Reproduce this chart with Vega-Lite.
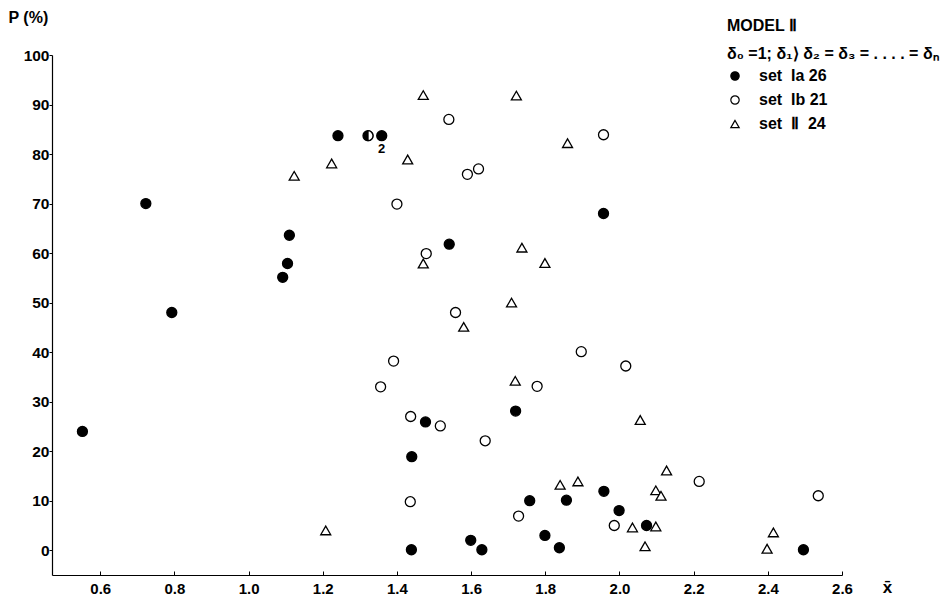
{
  "$schema": "https://vega.github.io/schema/vega-lite/v6.json",
  "width": 790,
  "height": 520,
  "autosize": {"type": "none"},
  "padding": {"left": 52, "top": 55, "right": 103, "bottom": 25},
  "background": "white",
  "config": {
    "view": {"stroke": null},
    "font": "Liberation Sans",
    "axis": {
      "domainColor": "black",
      "tickColor": "black",
      "labelColor": "black",
      "titleColor": "black",
      "grid": false,
      "labelFont": "Liberation Sans",
      "titleFont": "Liberation Sans"
    },
    "legend": {
      "orient": "none",
      "legendX": 675,
      "legendY": -37,
      "padding": 0,
      "titleFontSize": 16,
      "titleFontWeight": "bold",
      "titleLineHeight": 28,
      "titlePadding": 6,
      "titleColor": "black",
      "titleLimit": 400,
      "labelFontSize": 16,
      "labelFontWeight": "bold",
      "labelColor": "black",
      "labelOffset": 16,
      "labelLimit": 300,
      "rowPadding": 8,
      "symbolSize": 70,
      "symbolStrokeWidth": 1.2
    }
  },
  "data": {
    "values": [
      {"x": 0.552, "p": 24.0, "set": "Ia"},
      {"x": 0.723, "p": 70.0, "set": "Ia"},
      {"x": 0.793, "p": 48.0, "set": "Ia"},
      {"x": 1.092, "p": 55.1, "set": "Ia"},
      {"x": 1.105, "p": 57.9, "set": "Ia"},
      {"x": 1.110, "p": 63.6, "set": "Ia"},
      {"x": 1.241, "p": 83.7, "set": "Ia"},
      {"x": 1.322, "p": 83.7, "set": "Ia", "half": 1},
      {"x": 1.359, "p": 83.7, "set": "Ia", "n": 2},
      {"x": 1.541, "p": 61.8, "set": "Ia"},
      {"x": 1.957, "p": 68.0, "set": "Ia"},
      {"x": 1.720, "p": 28.1, "set": "Ia"},
      {"x": 1.477, "p": 25.9, "set": "Ia"},
      {"x": 1.440, "p": 18.9, "set": "Ia"},
      {"x": 1.958, "p": 11.9, "set": "Ia"},
      {"x": 1.758, "p": 10.0, "set": "Ia"},
      {"x": 1.857, "p": 10.1, "set": "Ia"},
      {"x": 1.999, "p": 8.0, "set": "Ia"},
      {"x": 2.073, "p": 5.0, "set": "Ia"},
      {"x": 1.599, "p": 2.0, "set": "Ia"},
      {"x": 1.799, "p": 3.0, "set": "Ia"},
      {"x": 1.439, "p": 0.1, "set": "Ia"},
      {"x": 1.629, "p": 0.1, "set": "Ia"},
      {"x": 1.838, "p": 0.5, "set": "Ia"},
      {"x": 2.496, "p": 0.1, "set": "Ia"},
      {"x": 1.540, "p": 87.0, "set": "Ib"},
      {"x": 1.957, "p": 83.9, "set": "Ib"},
      {"x": 1.590, "p": 75.9, "set": "Ib"},
      {"x": 1.620, "p": 77.0, "set": "Ib"},
      {"x": 1.400, "p": 69.9, "set": "Ib"},
      {"x": 1.479, "p": 59.9, "set": "Ib"},
      {"x": 1.558, "p": 48.0, "set": "Ib"},
      {"x": 1.897, "p": 40.1, "set": "Ib"},
      {"x": 1.391, "p": 38.2, "set": "Ib"},
      {"x": 2.017, "p": 37.2, "set": "Ib"},
      {"x": 1.356, "p": 33.0, "set": "Ib"},
      {"x": 1.778, "p": 33.1, "set": "Ib"},
      {"x": 1.437, "p": 27.0, "set": "Ib"},
      {"x": 1.517, "p": 25.1, "set": "Ib"},
      {"x": 1.638, "p": 22.1, "set": "Ib"},
      {"x": 1.436, "p": 9.8, "set": "Ib"},
      {"x": 1.728, "p": 6.9, "set": "Ib"},
      {"x": 1.986, "p": 5.0, "set": "Ib"},
      {"x": 2.215, "p": 13.9, "set": "Ib"},
      {"x": 2.536, "p": 11.0, "set": "Ib"},
      {"x": 1.123, "p": 75.6, "set": "II"},
      {"x": 1.471, "p": 91.9, "set": "II"},
      {"x": 1.722, "p": 91.8, "set": "II"},
      {"x": 1.860, "p": 82.2, "set": "II"},
      {"x": 1.224, "p": 78.1, "set": "II"},
      {"x": 1.429, "p": 78.9, "set": "II"},
      {"x": 1.471, "p": 57.9, "set": "II"},
      {"x": 1.737, "p": 61.1, "set": "II"},
      {"x": 1.799, "p": 58.0, "set": "II"},
      {"x": 1.709, "p": 50.0, "set": "II"},
      {"x": 1.580, "p": 45.1, "set": "II"},
      {"x": 1.719, "p": 34.2, "set": "II"},
      {"x": 2.056, "p": 26.3, "set": "II"},
      {"x": 1.840, "p": 13.2, "set": "II"},
      {"x": 1.888, "p": 13.9, "set": "II"},
      {"x": 2.035, "p": 4.6, "set": "II"},
      {"x": 1.208, "p": 4.0, "set": "II"},
      {"x": 2.069, "p": 0.8, "set": "II"},
      {"x": 2.127, "p": 16.1, "set": "II"},
      {"x": 2.098, "p": 12.1, "set": "II"},
      {"x": 2.112, "p": 11.0, "set": "II"},
      {"x": 2.098, "p": 4.8, "set": "II"},
      {"x": 2.415, "p": 3.6, "set": "II"},
      {"x": 2.398, "p": 0.3, "set": "II"}
    ]
  },
  "layer": [
    {
      "mark": {"type": "point", "filled": true, "strokeWidth": 1.3, "size": 100, "opacity": 1},
      "encoding": {
        "x": {
          "field": "x", "type": "quantitative",
          "scale": {"domain": [0.47, 2.6], "nice": false, "zero": false},
          "axis": {
            "values": [0.6, 0.7, 0.8, 0.9, 1.0, 1.1, 1.2, 1.3, 1.4, 1.5, 1.6, 1.7, 1.8, 1.9, 2.0, 2.1, 2.2, 2.3, 2.4, 2.5, 2.6],
            "labelExpr": "round(datum.value * 10) % 2 == 0 ? format(datum.value, '.1f') : ''",
            "tickSize": -4,
            "labelPadding": 10,
            "labelFontSize": 15,
            "labelFontWeight": "bold",
            "labelBaseline": "top",
            "labelFlush": false,
            "domainWidth": 1.2,
            "title": "x̄",
            "titleFontSize": 17,
            "titleFontWeight": "bold",
            "titleX": 835,
            "titleY": 12,
            "titleAlign": "center",
            "titleBaseline": "middle"
          }
        },
        "y": {
          "field": "p", "type": "quantitative",
          "scale": {"domain": [-5, 100], "nice": false, "zero": false},
          "axis": {
            "values": [0, 10, 20, 30, 40, 50, 60, 70, 80, 90, 100],
            "tickSize": 3,
            "labelPadding": 0,
            "labelFontSize": 15.5,
            "labelFontWeight": "bold",
            "labelFlush": false,
            "domainWidth": 1.2,
            "title": "P (%)",
            "titleFontSize": 16,
            "titleFontWeight": "bold",
            "titleAngle": 0,
            "titleAlign": "left",
            "titleBaseline": "middle",
            "titleX": -44,
            "titleY": -38
          }
        },
        "shape": {
          "field": "set", "type": "nominal",
          "scale": {"domain": ["Ia", "Ib", "II"], "range": ["circle", "circle", "triangle-up"]},
          "legend": {
            "title": ["MODEL Ⅱ", "δ₀ =1;  δ₁⟩ δ₂ = δ₃ = . . . . = δₙ"],
            "labelExpr": "datum.label == 'Ia' ? 'set\u00a0\u00a0Ia\u00a026' : datum.label == 'Ib' ? 'set\u00a0\u00a0Ib\u00a021' : 'set\u00a0\u00a0Ⅱ\u00a0\u00a024'"
          }
        },
        "fill": {
          "field": "set", "type": "nominal",
          "scale": {"domain": ["Ia", "Ib", "II"], "range": ["black", "white", "white"]},
          "legend": {
            "title": ["MODEL Ⅱ", "δ₀ =1;  δ₁⟩ δ₂ = δ₃ = . . . . = δₙ"],
            "labelExpr": "datum.label == 'Ia' ? 'set\u00a0\u00a0Ia\u00a026' : datum.label == 'Ib' ? 'set\u00a0\u00a0Ib\u00a021' : 'set\u00a0\u00a0Ⅱ\u00a0\u00a024'"
          }
        },
        "stroke": {
          "field": "set", "type": "nominal",
          "scale": {"domain": ["Ia", "Ib", "II"], "range": ["black", "black", "black"]},
          "legend": {
            "title": ["MODEL Ⅱ", "δ₀ =1;  δ₁⟩ δ₂ = δ₃ = . . . . = δₙ"],
            "labelExpr": "datum.label == 'Ia' ? 'set\u00a0\u00a0Ia\u00a026' : datum.label == 'Ib' ? 'set\u00a0\u00a0Ib\u00a021' : 'set\u00a0\u00a0Ⅱ\u00a0\u00a024'"
          }
        }
      }
    },
    {
      "transform": [{"filter": "datum.half == 1"}],
      "mark": {"type": "point", "shape": "M0,-1A1,1 0 0,1 0,1Z", "filled": true, "fill": "white", "stroke": "black", "strokeWidth": 1.3, "size": 100, "opacity": 1},
      "encoding": {
        "x": {"field": "x", "type": "quantitative"},
        "y": {"field": "p", "type": "quantitative"}
      }
    },
    {
      "transform": [{"filter": "datum.n > 1"}],
      "mark": {"type": "text", "dy": 13, "fontSize": 13, "fontWeight": "bold", "color": "black"},
      "encoding": {
        "x": {"field": "x", "type": "quantitative"},
        "y": {"field": "p", "type": "quantitative"},
        "text": {"field": "n", "type": "quantitative"}
      }
    }
  ]
}
